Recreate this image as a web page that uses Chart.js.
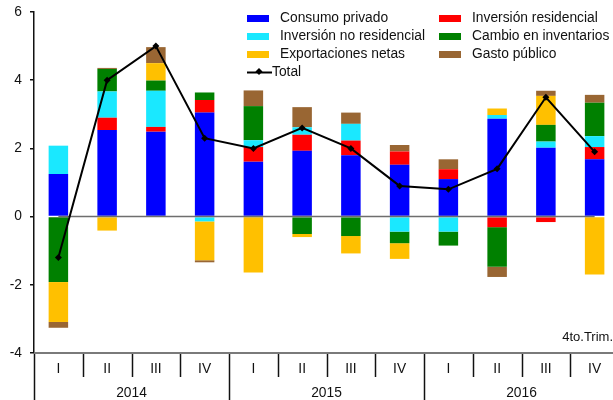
<!DOCTYPE html>
<html>
<head>
<meta charset="utf-8">
<script src="https://cdn.jsdelivr.net/npm/chart.js@4/dist/chart.umd.min.js"></script>
<style>
    html, body { margin: 0; padding: 0; background: #fff; overflow: hidden; }
    #wrap { position: relative; width: 625px; height: 400px; }
    #legend { position: absolute; left: 247px; top: 9px; font-family: "Liberation Sans", Arial, sans-serif; font-size: 13.8px; color: #111; }
    .item { position: absolute; white-space: nowrap; height: 18px; line-height: 18px; }
    .box { position: absolute; left: 0; top: 6px; width: 22px; height: 7px; }
    .item span.txt { position: absolute; left: 33px; top: 0; }
</style>
</head>
<body>
<div id="wrap">
    <canvas id="myChart"></canvas>
    <div id="legend"></div>
</div>
<script>
const categories = ['I', 'II', 'III', 'IV', 'I', 'II', 'III', 'IV', 'I', 'II', 'III', 'IV'];
const years = ['2014', '2015', '2016'];

const consumoPrivado = [1.25, 2.54, 2.49, 3.05, 1.61, 1.93, 1.80, 1.52, 1.10, 2.87, 2.02, 1.68];
const inversionResidencial = [-0.02, 0.36, 0.14, 0.37, 0.43, 0.47, 0.43, 0.39, 0.29, -0.31, -0.16, 0.36];
const inversionNoResidencial = [0.83, 0.77, 1.06, -0.14, 0.20, 0.22, 0.49, -0.44, -0.44, 0.11, 0.18, 0.32];
const cambioInventarios = [-1.90, 0.66, 0.30, 0.22, 1.00, -0.51, -0.57, -0.34, -0.41, -1.16, 0.49, 0.98];
const exportacionesNetas = [-1.17, -0.41, 0.51, -1.14, -1.64, -0.09, -0.51, -0.46, 0, 0.19, 0.85, -1.70];
const gastoPublico = [-0.17, 0.03, 0.47, -0.06, 0.46, 0.59, 0.33, 0.19, 0.29, -0.30, 0.15, 0.23];
const total = [-1.2, 4.0, 5.0, 2.3, 2.0, 2.6, 2.0, 0.9, 0.8, 1.4, 3.5, 1.9];
const zeroLine = categories.map(() => 0);

const yTicks = [-4, -2, 0, 2, 4, 6];
const footNote = '4to.Trim.';

const components = [
    { label: 'Consumo privado', data: consumoPrivado, color: '#0000ff' },
    { label: 'Inversión residencial', data: inversionResidencial, color: '#ff0000' },
    { label: 'Inversión no residencial', data: inversionNoResidencial, color: '#1ae8ff' },
    { label: 'Cambio en inventarios', data: cambioInventarios, color: '#008000' },
    { label: 'Exportaciones netas', data: exportacionesNetas, color: '#ffc000' },
    { label: 'Gasto público', data: gastoPublico, color: '#996633' }
];

const FONT = '"Liberation Sans", Arial, sans-serif';

// legend in two columns, Total at the end of the first column
const legendEl = document.getElementById('legend');
components.forEach((c, i) => {
    const col = i % 2;
    const row = Math.floor(i / 2);
    const el = document.createElement('div');
    el.className = 'item';
    el.style.left = (col * 192) + 'px';
    el.style.top = (row * 18) + 'px';
    el.innerHTML = `<div class="box" style="background:${c.color}"></div><span class="txt">${c.label}</span>`;
    legendEl.appendChild(el);
});
const totalItem = document.createElement('div');
totalItem.className = 'item';
totalItem.style.left = '0px';
totalItem.style.top = '54px';
totalItem.innerHTML = '<svg width="26" height="18" style="position:absolute;left:0;top:0">' +
    '<line x1="0" y1="9.5" x2="25" y2="9.5" stroke="#000" stroke-width="2"/>' +
    '<rect x="9.5" y="6" width="5" height="5" fill="#000" transform="rotate(45 12 8.5)"/></svg>' +
    '<span class="txt" style="left:25px">Total</span>';
legendEl.appendChild(totalItem);

// category / year axis drawn under the plot area
const quarterAxis = {
    id: 'quarterAxis',
    afterDraw(chart) {
        const { ctx, chartArea } = chart;
        const x = chart.scales.x;
        const step = x.getPixelForValue(1) - x.getPixelForValue(0);
        const left = x.getPixelForValue(0) - step / 2;
        const bottom = chartArea.bottom;
        ctx.save();

        ctx.strokeStyle = '#111';
        ctx.lineWidth = 1.5;
        for (let i = 0; i <= categories.length; i++) {
            const px = Math.round(left + i * step) + 0.5;
            ctx.beginPath();
            ctx.moveTo(px, bottom);
            ctx.lineTo(px, i % 4 === 0 ? chart.height : bottom + 24);
            ctx.stroke();
        }

        ctx.strokeStyle = '#7a7a7a';
        ctx.lineWidth = 2;
        ctx.beginPath();
        ctx.moveTo(chartArea.left, bottom);
        ctx.lineTo(chartArea.right, bottom);
        ctx.stroke();

        ctx.fillStyle = '#111';
        ctx.font = '13.8px ' + FONT;
        ctx.textAlign = 'center';
        ctx.textBaseline = 'middle';
        categories.forEach((c, i) => {
            ctx.fillText(c, x.getPixelForValue(i), bottom + 16);
        });
        years.forEach((y, i) => {
            const cx = (x.getPixelForValue(i * 4) + x.getPixelForValue(i * 4 + 3)) / 2;
            ctx.fillText(y, cx, bottom + 40);
        });

        ctx.font = '13px ' + FONT;
        ctx.textAlign = 'right';
        ctx.fillText(footNote, 613, bottom - 16);
        ctx.restore();
    }
};

const datasets = components.map(c => ({
    type: 'bar',
    label: c.label,
    data: c.data,
    backgroundColor: c.color,
    borderWidth: 0,
    stack: 'componentes',
    order: 2
}));

datasets.push({
    type: 'line',
    label: 'cero',
    data: zeroLine,
    borderColor: '#6e6e6e',
    borderWidth: 1.5,
    pointRadius: 0,
    stack: 'cero',
    order: 1
});

datasets.push({
    type: 'line',
    label: 'Total',
    data: total,
    borderColor: '#000',
    backgroundColor: '#000',
    borderWidth: 2,
    pointStyle: 'rectRot',
    pointRadius: 3.5,
    pointBorderWidth: 0,
    tension: 0,
    stack: 'total',
    order: 0
});

const config = {
    type: 'bar',
    data: { labels: categories, datasets: datasets },
    options: {
        responsive: true,
        maintainAspectRatio: false,
        animation: false,
        layout: { autoPadding: false, padding: { top: 12, right: 6, left: 0, bottom: 0 } },
        datasets: {
            bar: { categoryPercentage: 1.0, barPercentage: 0.4 }
        },
        scales: {
            x: {
                stacked: true,
                offset: true,
                grid: { display: false },
                border: { display: false },
                ticks: { display: false },
                afterFit: scale => { scale.height = 47; }
            },
            y: {
                stacked: true,
                min: -4,
                max: 6,
                afterBuildTicks: scale => { scale.ticks = yTicks.map(v => ({ value: v })); },
                afterFit: scale => {
                    scale.width = 34;
                    scale.paddingTop = 0;
                    scale.paddingBottom = 0;
                },
                border: { display: true, color: '#111', width: 1.5 },
                grid: { drawOnChartArea: false, drawTicks: true, tickLength: 4, color: '#111', lineWidth: 1.5 },
                ticks: {
                    padding: 8,
                    color: '#111',
                    font: { family: FONT, size: 13.8 }
                }
            }
        },
        plugins: {
            legend: { display: false },
            tooltip: { enabled: false }
        }
    },
    plugins: [quarterAxis]
};

const ctx = document.getElementById('myChart').getContext('2d');
new Chart(ctx, config);
</script>
</body>
</html>
